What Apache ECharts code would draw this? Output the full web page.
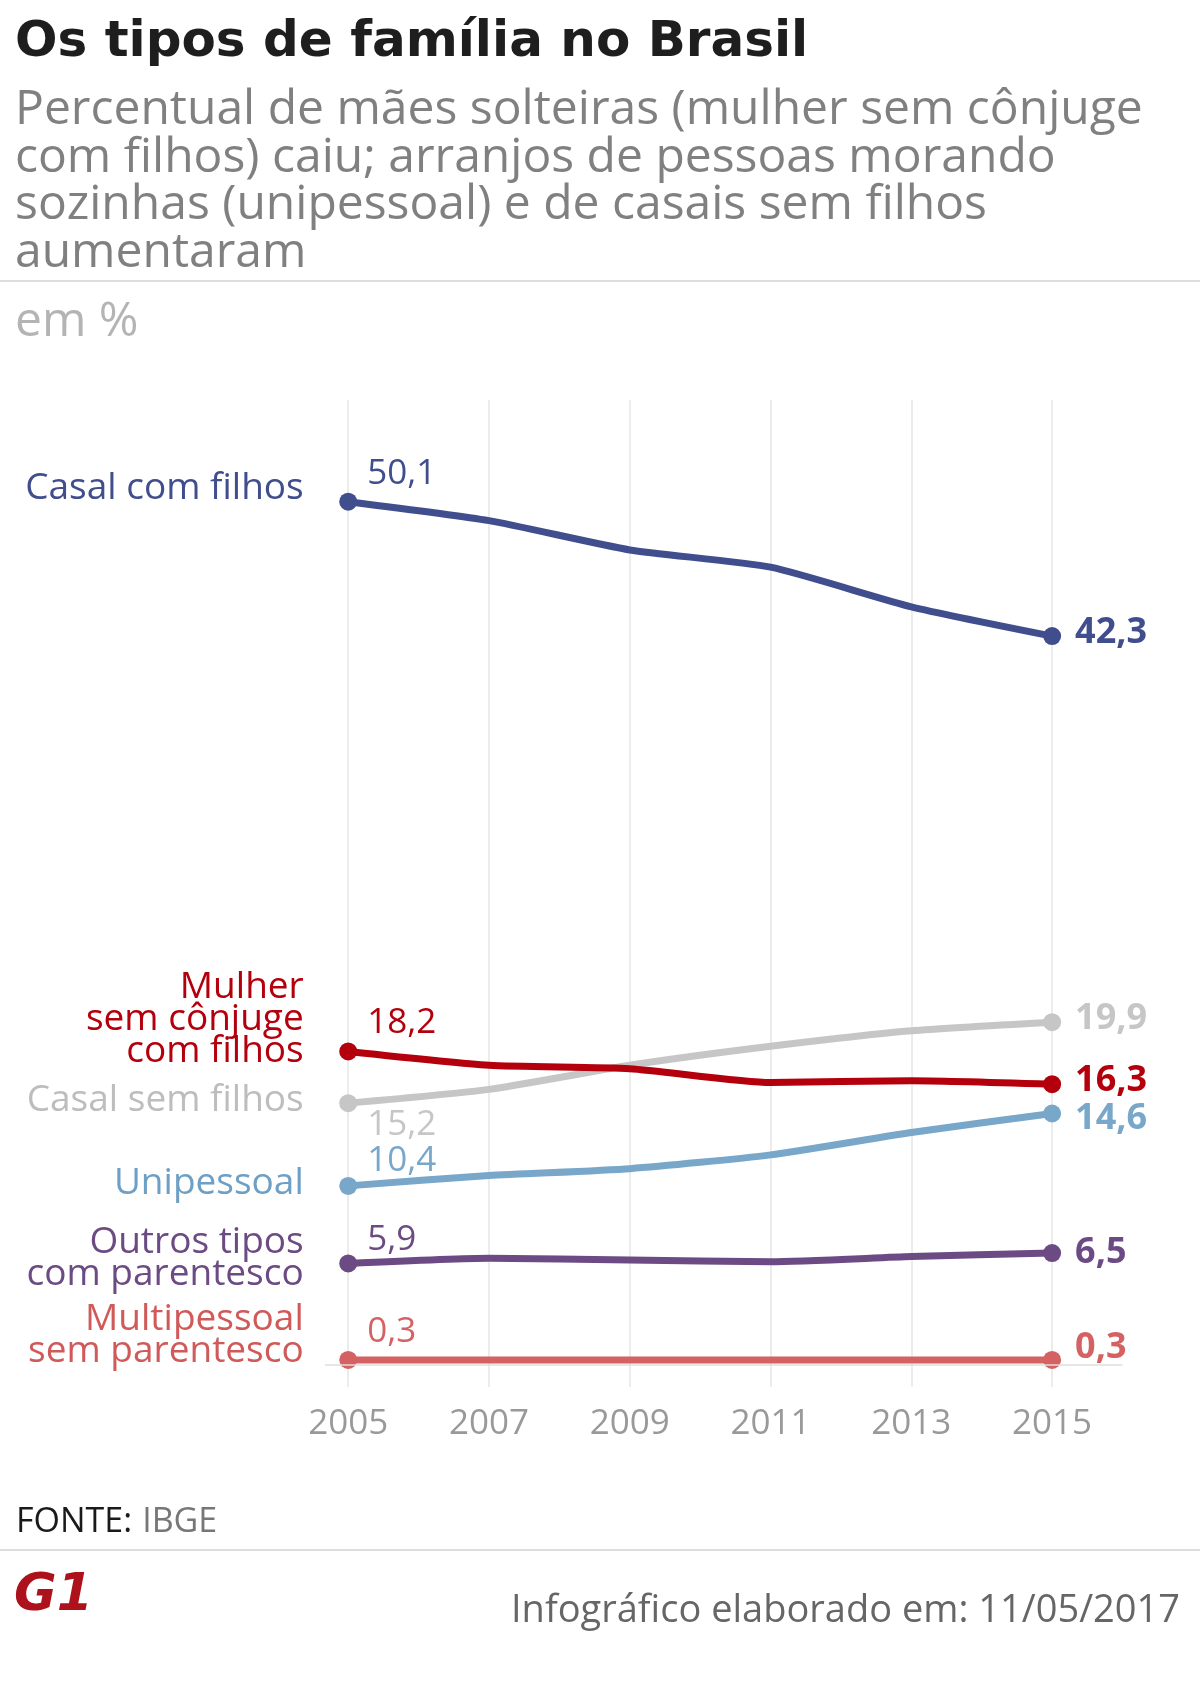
<!DOCTYPE html>
<html>
<head>
<meta charset="utf-8">
<title>Os tipos de família no Brasil</title>
<script src="https://cdn.jsdelivr.net/npm/echarts@6/dist/echarts.min.js"></script>
<style>
    html, body { margin: 0; padding: 0; background: #fff; }
    #chart { width: 1200px; height: 1698px; }
</style>
</head>
<body>
<div id="chart"></div>
<script>
    // anos do eixo x
    var anos = [2005, 2007, 2009, 2011, 2013, 2015]

    // tipos de arranjo familiar, em %
    var nomes = ['Casal com filhos', 'Mulher\nsem cônjuge\ncom filhos', 'Casal sem filhos',
        'Unipessoal', 'Outros tipos\ncom parentesco', 'Multipessoal\nsem parentesco']
    var casalComFilhos = [50.1, 49.0, 47.3, 46.3, 44.0, 42.3]
    var mulherSemConjuge = [18.2, 17.4, 17.2, 16.4, 16.5, 16.3]
    var casalSemFilhos = [15.2, 16.0, 17.4, 18.5, 19.4, 19.9]
    var unipessoal = [10.4, 11.0, 11.4, 12.2, 13.5, 14.6]
    var outrosTipos = [5.9, 6.2, 6.1, 6.0, 6.3, 6.5]
    var multipessoal = [0.3, 0.3, 0.3, 0.3, 0.3, 0.3]

    // cores e deslocamentos dos rótulos (nome à esquerda, valor inicial, valor final)
    var estilos = [
        {cor: '#414e8e', nomeCor: '#414e8e', nomeDy: -13, iniDy: -28, fimDy: -3},
        {cor: '#b3000c', nomeCor: '#b3000c', nomeDy: -32, iniDy: -28, fimDy: -3},
        {cor: '#c6c6c6', nomeCor: '#bdbdbd', nomeDy: -3, iniDy: 22, fimDy: -3},
        {cor: '#78a7ca', nomeCor: '#6e9fc4', nomeDy: -2, iniDy: -25, fimDy: 5},
        {cor: '#6c4b84', nomeCor: '#6c4b84', nomeDy: -5, iniDy: -23, fimDy: 0},
        {cor: '#d56262', nomeCor: '#d05a5a', nomeDy: -24, iniDy: -28, fimDy: -12}
    ]

    var fonte = '"Open Sans", "Noto Sans", sans-serif'

    function virgula (v) {
        return v.toFixed(1).replace('.', ',')
    }

    function montaSerie (nome, valores, est, extra) {
        var ultimo = valores.length - 1
        var serie = {
            name: nome,
            type: 'line',
            smooth: 0.2,
            symbol: 'circle',
            symbolSize: 18,
            lineStyle: {width: 7, color: est.cor, join: 'round', cap: 'round'},
            itemStyle: {color: est.cor},
            emphasis: {disabled: true},
            data: valores.map(function (v, i) {
                var item = {value: [anos[i], v]}
                if (i === 0) {
                    item.label = {
                        show: true, position: 'right', distance: 10, offset: [0, est.iniDy],
                        fontFamily: fonte, fontSize: 35, color: est.cor,
                        formatter: function (p) { return virgula(p.value[1]) }
                    }
                } else if (i === ultimo) {
                    item.label = {
                        show: true, position: 'right', distance: 14, offset: [0, est.fimDy],
                        fontFamily: fonte, fontSize: 36, fontWeight: 'bold', color: est.cor,
                        formatter: function (p) { return virgula(p.value[1]) }
                    }
                } else {
                    item.symbol = 'none'
                }
                return item
            }),
            // nome da série à esquerda do primeiro ponto
            markPoint: {
                silent: true,
                symbol: 'circle',
                symbolSize: 1,
                itemStyle: {color: 'rgba(0,0,0,0)'},
                data: [{
                    coord: [anos[0], valores[0]],
                    label: {
                        show: true, position: 'left', distance: 44, offset: [0, est.nomeDy],
                        fontFamily: fonte, fontSize: 37, lineHeight: 32, color: est.nomeCor,
                        formatter: nome
                    }
                }]
            }
        }
        if (extra) {
            serie.markLine = extra
        }
        return serie
    }

    // linha de base no zero
    var linhaBase = {
        silent: true,
        symbol: ['none', 'none'],
        label: {show: false},
        lineStyle: {color: '#dedede', width: 1.5, type: 'solid'},
        data: [{yAxis: 0}]
    }

    var chart = echarts.init(document.getElementById('chart'))
    chart.setOption({
        backgroundColor: '#fff',
        animation: false,
        title: [
            {
                text: 'Os tipos de família no Brasil',
                left: 15, top: 17, padding: 0,
                textStyle: {fontFamily: '"DejaVu Sans"', fontWeight: 'bold', fontSize: 50, lineHeight: 52, color: '#1e1e1e'}
            },
            {
                text: 'Percentual de mães solteiras (mulher sem cônjuge\ncom filhos) caiu; arranjos de pessoas morando\nsozinhas (unipessoal) e de casais sem filhos\naumentaram',
                left: 15, top: 87, padding: 0,
                textStyle: {fontFamily: fonte, fontWeight: 'normal', fontSize: 48, lineHeight: 47.5, color: '#808080'}
            },
            {
                text: 'em %',
                left: 15, top: 298, padding: 0,
                textStyle: {fontFamily: fonte, fontWeight: 'normal', fontSize: 48, lineHeight: 48, color: '#b4b4b4'}
            },
            {
                text: '{a|FONTE:}  {b|IBGE}',
                left: 16, top: 1505, padding: 0,
                textStyle: {
                    rich: {
                        a: {fontFamily: fonte, fontWeight: 'normal', fontSize: 34, lineHeight: 34, color: '#1a1a1a'},
                        b: {fontFamily: fonte, fontWeight: 'normal', fontSize: 34, lineHeight: 34, color: '#777'}
                    }
                }
            },
            {
                text: 'Infográfico elaborado em: 11/05/2017',
                right: 20, top: 1592, padding: 0,
                textStyle: {fontFamily: fonte, fontWeight: 'normal', fontSize: 38, lineHeight: 38, color: '#666'}
            }
        ],
        graphic: [
            {type: 'rect', shape: {x: 0, y: 280, width: 1200, height: 2}, style: {fill: '#dddddd'}, silent: true},
            {type: 'rect', shape: {x: 0, y: 1549, width: 1200, height: 2}, style: {fill: '#dddddd'}, silent: true},
            {
                type: 'text', left: 14, top: 1570, silent: true,
                style: {
                    text: 'G1', fontFamily: '"DejaVu Sans"', fontWeight: 'bold', fontStyle: 'italic', fontSize: 52,
                    fill: '#ad111b'
                }
            }
        ],
        grid: {left: 325, right: 77.5, top: 400, bottom: 311, containLabel: false},
        xAxis: {
            type: 'value',
            min: 2004.67,
            max: 2016,
            axisLine: {show: false, onZero: false},
            axisTick: {show: false, customValues: anos},
            axisLabel: {
                customValues: anos,
                margin: 20,
                fontFamily: fonte, fontSize: 35, color: '#999',
                formatter: function (v) { return String(v) }
            },
            splitLine: {show: true, lineStyle: {color: '#e6e6e6', width: 1.5}}
        },
        yAxis: {
            type: 'value',
            min: -1.27,
            max: 56,
            show: false,
            splitLine: {show: false}
        },
        series: [
            montaSerie(nomes[0], casalComFilhos, estilos[0], linhaBase),
            montaSerie(nomes[2], casalSemFilhos, estilos[2]),
            montaSerie(nomes[1], mulherSemConjuge, estilos[1]),
            montaSerie(nomes[3], unipessoal, estilos[3]),
            montaSerie(nomes[4], outrosTipos, estilos[4]),
            montaSerie(nomes[5], multipessoal, estilos[5])
        ]
    })
</script>
</body>
</html>
